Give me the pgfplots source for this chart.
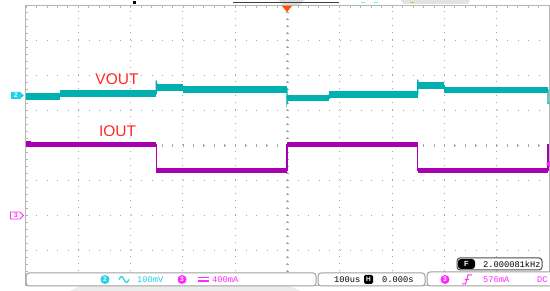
\documentclass[border=0pt]{standalone}
\usepackage{fontspec}
\setmainfont{Liberation Sans}
\setmonofont{Liberation Mono}
\usepackage{pgfplots}
\pgfplotsset{compat=1.18}
\definecolor{vout}{RGB}{0,176,176}
\definecolor{iout}{RGB}{168,0,176}
\definecolor{lbl}{RGB}{255,40,40}
\definecolor{gridc}{RGB}{165,165,165}
\definecolor{framec}{RGB}{180,180,180}
\definecolor{cyanc}{RGB}{30,210,235}
\definecolor{magc}{RGB}{255,40,255}
\definecolor{trigc}{RGB}{255,80,0}
\begin{document}
\begin{tikzpicture}[x=1pt,y=1pt]
% top decorations (under axis)
\fill[gray!22] (403,287) -- (468,287) -- (470,291) -- (401,291) -- cycle;
\fill[gray!28] (284,285) -- (299,285) -- (304,291) -- (279,291) -- cycle;
\draw[black!75, line width=1pt] (233,288) -- (339,288);
\fill[black] (133,287) rectangle (136,289.5);
\draw[green!55!white, line width=1pt] (361,288) -- (365,288) (374,288) -- (378,288);
\draw[yellow!70!green, line width=1pt] (410,288) -- (414,288);
% center cross ticks
\foreach \k in {1,...,49} \draw[gridc, line width=0.8pt] ({26+10.46*\k},144) -- ++(0,3);
\foreach \k in {1,...,39} \draw[gridc, line width=0.8pt] (286,{5.5+7*\k}) -- ++(3,0);
\begin{axis}[
  at={(26pt,5.5pt)}, anchor=south west,
  scale only axis, width=523pt, height=280pt,
  xmin=0, xmax=10, ymin=-4, ymax=4,
  xtick={0,...,10}, ytick={-4,...,4},
  xticklabels={}, yticklabels={},
  minor x tick num=4, minor y tick num=4,
  xtick pos=right, ytick pos=left,
  tick align=inside,
  major tick length=2pt, minor tick length=2pt,
  every tick/.append style={framec, line width=0.8pt},
  grid=major,
  x grid style={gridc, line width=1pt, dash pattern=on 1pt off 6pt},
  y grid style={gridc, line width=1pt, dash pattern=on 1pt off 9.46pt},
  axis line style={framec, line width=1pt},
  unbounded coords=jump,
]
% VOUT thin trace (edges)
\addplot[vout, line width=1.2pt] coordinates {
 (0,1.40)(0.65,1.40)(0.65,1.48)(2.49,1.48)(2.49,1.86)(2.51,1.66)(3.0,1.66)(3.0,1.60)
 (4.99,1.60)(4.99,1.22)(5.01,1.35)(5.8,1.35)(5.8,1.45)(7.49,1.45)(7.49,1.88)(7.51,1.71)
 (8.0,1.71)(8.0,1.59)(9.98,1.59)(9.98,1.20)(10,1.20)};
% VOUT thick band
\addplot[vout, line width=6.5pt, line cap=butt] coordinates {
 (0,1.40)(0.65,1.40)(0.65,nan)
 (0.65,1.48)(2.49,1.48)(2.49,nan)
 (2.49,1.66)(3.0,1.66)(3.0,nan)
 (3.0,1.60)(4.99,1.60)(4.99,nan)
 (4.99,1.35)(5.8,1.35)(5.8,nan)
 (5.8,1.45)(7.49,1.45)(7.49,nan)
 (7.49,1.71)(8.0,1.71)(8.0,nan)
 (8.0,1.59)(9.98,1.59)};
% IOUT thin trace (edges)
\addplot[iout, line width=1.2pt] coordinates {
 (0,0.12)(0.08,0.12)(0.08,0.03)(2.49,0.03)(2.49,-0.71)(4.99,-0.71)(4.99,0.03)
 (7.49,0.03)(7.49,-0.71)(9.98,-0.71)(9.98,0.03)(10,0.03)};
% IOUT thick band
\addplot[iout, line width=5pt, line cap=butt] coordinates {
 (0,0.03)(2.49,0.03)(2.49,nan)
 (2.49,-0.71)(4.99,-0.71)(4.99,nan)
 (4.99,0.03)(7.49,0.03)(7.49,nan)
 (7.49,-0.71)(9.98,-0.71)};
\node[lbl, font=\fontsize{15.5}{15.5}\selectfont, inner sep=0pt] at (axis cs:1.74,1.89) {VOUT};
\node[lbl, font=\fontsize{15.5}{15.5}\selectfont, inner sep=0pt] at (axis cs:1.75,0.40) {IOUT};
\end{axis}
% channel markers
\fill[cyanc] (11,192) -- (20,192) -- (24,195.5) -- (20,199) -- (11,199) -- cycle;
\node[white, font=\bfseries\fontsize{6.5}{6.5}\selectfont, inner sep=0pt] at (16,195.5) {2};
\draw[magc, line width=0.8pt] (10.5,72) -- (20,72) -- (23.5,75.5) -- (20,79) -- (10.5,79) -- cycle;
\node[magc, font=\bfseries\fontsize{6.5}{6.5}\selectfont, inner sep=0pt] at (16,75.5) {3};
% trigger markers
\fill[trigc] (282,285) -- (292,285) -- (287,279) -- cycle;
\fill[magc] (550,130) -- (546,127) -- (550,124) -- cycle;
% status bar
\fill[gray!15] (70,0) -- (80,5) -- (290,5) -- (300,0) -- cycle;
\draw[gray!75, line width=1pt, fill=white, rounded corners=3pt] (26,5) rectangle (316,18);
\draw[gray!75, line width=1pt, fill=white, rounded corners=3pt] (318,5) rectangle (425,18);
\draw[gray!75, line width=1pt, fill=white, rounded corners=3pt] (427,5) rectangle (556,19);
\draw[black!70, line width=1pt, fill=white, rounded corners=3pt] (457,21) rectangle (542,33);
\tikzset{mono/.style={font=\ttfamily\fontsize{8.7}{8.7}\selectfont, inner sep=0pt, anchor=west}}
% box 1
\fill[cyanc] (105,11.5) circle (4.5);
\node[white, font=\bfseries\fontsize{6.5}{6.5}\selectfont, inner sep=0pt] at (105,11.5) {2};
\draw[cyanc, line width=1.2pt] (119,11.5) sin (121.5,14.5) cos (124,11.5) sin (126.5,8.5) cos (129,11.5);
\node[mono, cyanc] at (137,11.5) {100mV};
\fill[magc] (182,11.5) circle (4.5);
\node[white, font=\bfseries\fontsize{6.5}{6.5}\selectfont, inner sep=0pt] at (182,11.5) {3};
\draw[magc, line width=1.3pt] (198,13.5) -- (209,13.5) (198,10) -- (209,10);
\node[mono, magc] at (212,11.5) {400mA};
% box 2
\node[mono, black] at (334,11.5) {100us};
\fill[black, rounded corners=1.5pt] (364,7) rectangle (373,16);
\node[white, font=\bfseries\fontsize{6.5}{6.5}\selectfont, inner sep=0pt] at (368.5,11.5) {H};
\node[mono, black] at (382,11.5) {0.000s};
% box 3
\fill[magc] (445,11.5) circle (4.5);
\node[white, font=\bfseries\fontsize{6.5}{6.5}\selectfont, inner sep=0pt] at (445,11.5) {3};
\draw[magc, line width=1pt] (462,7) -- (465.5,7) -- (468,16) -- (472,16);
\draw[magc, line width=0.8pt] (464.5,11.5) -- (469,11.5);
\node[mono, magc] at (483,11.5) {576mA};
\node[mono, magc] at (537,11.5) {DC};
% F box
\fill[black, rounded corners=3pt] (458,22) rectangle (475,32);
\node[white, font=\bfseries\fontsize{7.5}{7.5}\selectfont, inner sep=0pt] at (466.5,27) {F};
\node[mono, black] at (483,27) {2.000081kHz};
\pgfresetboundingbox
\path (0,0) rectangle (550,291);
\end{tikzpicture}
\end{document}
